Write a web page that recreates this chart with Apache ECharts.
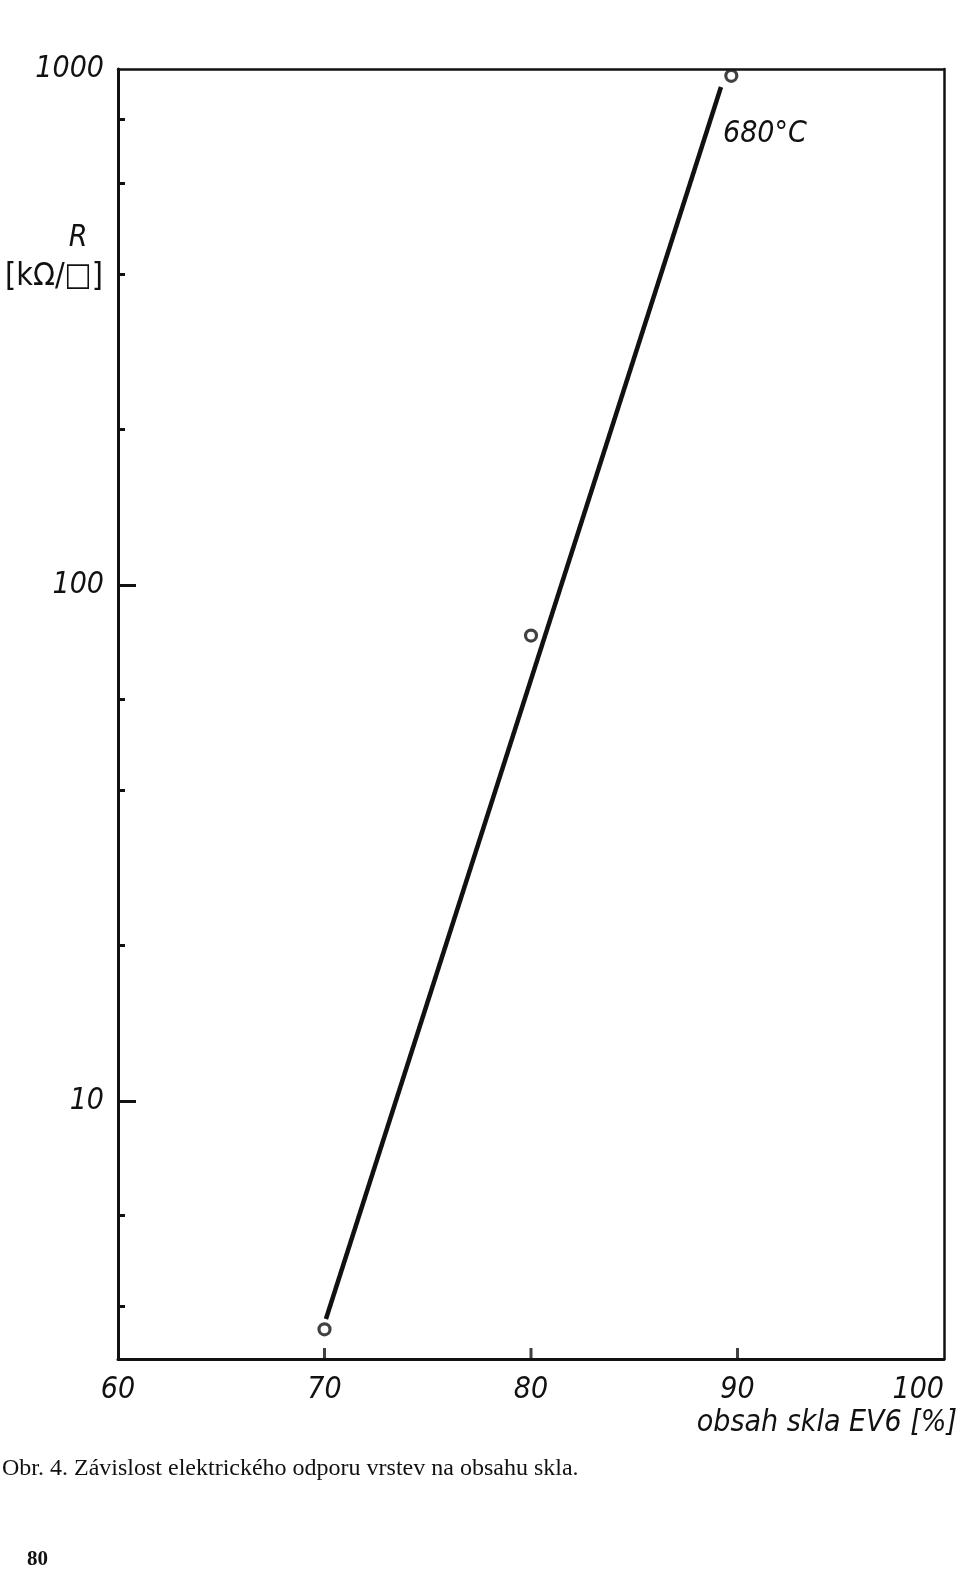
<!DOCTYPE html>
<html>
<head>
<meta charset="utf-8">
<script src="https://cdn.jsdelivr.net/npm/echarts@6/dist/echarts.min.js"></script>
<style>
html,body{margin:0;padding:0;background:#fff;}
#chart{width:960px;height:1572px;}
</style>
</head>
<body>
<div id="chart"></div>
<script>
// ---- data ----
const xMin = 60, xMax = 100, xStep = 10;
const xInnerTicks = [70, 80, 90];
const yLabelValues = [10, 100, 1000];
const yMajorTicks = [10, 100];
const yMinorTicks = [4, 6, 20, 40, 60, 200, 400, 600, 800];
const measuredPoints = [[70, 3.61], [80, 79.8], [89.7, 970]];
const fitLine = [[70.07, 3.78], [89.2, 923]];
const seriesLabel = '680°C';
const xAxisTitle = 'obsah skla EV6 [%]';
const yAxisTitle1 = 'R';
const yAxisTitle2 = '[kΩ/□]';
const caption = 'Obr. 4. Závislost elektrického odporu vrstev na obsahu skla.';
const pageNumber = '80';

const INK = '#111';
const FONT = "'Liberation Sans Narrow','DejaVu Sans Condensed','Liberation Sans',sans-serif";
const yMin = Math.sqrt(10), yMax = 1000;

const frameAxis = {axisLine: {show: true, onZero: false, lineStyle: {color: INK, width: 2.5}}, axisTick: {show: false}, axisLabel: {show: false}, splitLine: {show: false}};

const chart = echarts.init(document.getElementById('chart'), null, {renderer: 'canvas'});
const option = {
  backgroundColor: '#fff',
  animation: false,
  grid: {left: 118, top: 69, width: 826, height: 1290, show: false, containLabel: false},
  xAxis: [{
    type: 'value', min: xMin, max: xMax, interval: xStep, position: 'bottom',
    axisLine: {show: true, onZero: false, lineStyle: {color: INK, width: 3}},
    axisTick: {show: false},
    splitLine: {show: false},
    axisLabel: {show: true, fontFamily: FONT, fontStyle: 'italic', fontSize: 30, color: INK, margin: 16, alignMaxLabel: 'right', formatter: v => String(v)}
  }, Object.assign({type: 'value', min: xMin, max: xMax, position: 'top'}, frameAxis)],
  yAxis: [{
    type: 'log', logBase: 10, min: yMin, max: yMax, position: 'left',
    axisLine: {show: true, onZero: false, lineStyle: {color: INK, width: 3}},
    axisTick: {show: true, inside: true, length: 18, customValues: yMajorTicks, lineStyle: {color: INK, width: 3}},
    splitLine: {show: false},
    axisLabel: {customValues: yLabelValues, fontFamily: FONT, fontStyle: 'italic', fontSize: 30, color: INK, margin: 14, formatter: v => String(Math.round(v))}
  }, {
    type: 'log', logBase: 10, min: yMin, max: yMax, position: 'left',
    axisLine: {show: false},
    axisTick: {show: true, inside: true, length: 7, customValues: yMinorTicks, lineStyle: {color: INK, width: 3}},
    splitLine: {show: false},
    axisLabel: {show: false}
  }, Object.assign({type: 'log', logBase: 10, min: yMin, max: yMax, position: 'right'}, frameAxis)],
  series: [{
    type: 'line', data: fitLine, symbol: 'none',
    lineStyle: {color: INK, width: 4.5}, silent: true
  }, {
    type: 'scatter', data: measuredPoints, symbol: 'circle', symbolSize: 11,
    itemStyle: {color: '#fff', borderColor: INK, borderWidth: 3.2}
  }, {
    // inward tick marks of the x axis at 70, 80, 90
    type: 'scatter', clip: false, silent: true,
    data: xInnerTicks.map(v => [v, yMin]),
    symbol: 'rect', symbolSize: [3, 11], symbolOffset: [0, -5.5],
    itemStyle: {color: INK}
  }],
  graphic: [
    {type: 'text', left: 723, top: 119, style: {text: seriesLabel, font: "italic 30px " + FONT, fill: INK}},
    {type: 'text', x: 78, y: 238, style: {text: yAxisTitle1, font: "italic 30px " + FONT, fill: INK, textAlign: 'center', textVerticalAlign: 'middle'}},
    {type: 'text', x: 54, y: 277, style: {text: yAxisTitle2, font: "32px " + FONT, fill: INK, textAlign: 'center', textVerticalAlign: 'middle'}},
    {type: 'text', x: 957, y: 1423, style: {text: xAxisTitle, font: "italic 30px " + FONT, fill: INK, textAlign: 'right', textVerticalAlign: 'middle'}},
    {type: 'text', x: 2, y: 1469, style: {text: caption, font: "24px 'Liberation Serif','Times New Roman',serif", fill: INK, textAlign: 'left', textVerticalAlign: 'middle'}},
    {type: 'text', x: 27, y: 1560, style: {text: pageNumber, font: "bold 21px 'Liberation Serif','Times New Roman',serif", fill: INK, textAlign: 'left', textVerticalAlign: 'middle'}}
  ]
};
chart.setOption(option);
</script>
</body>
</html>
